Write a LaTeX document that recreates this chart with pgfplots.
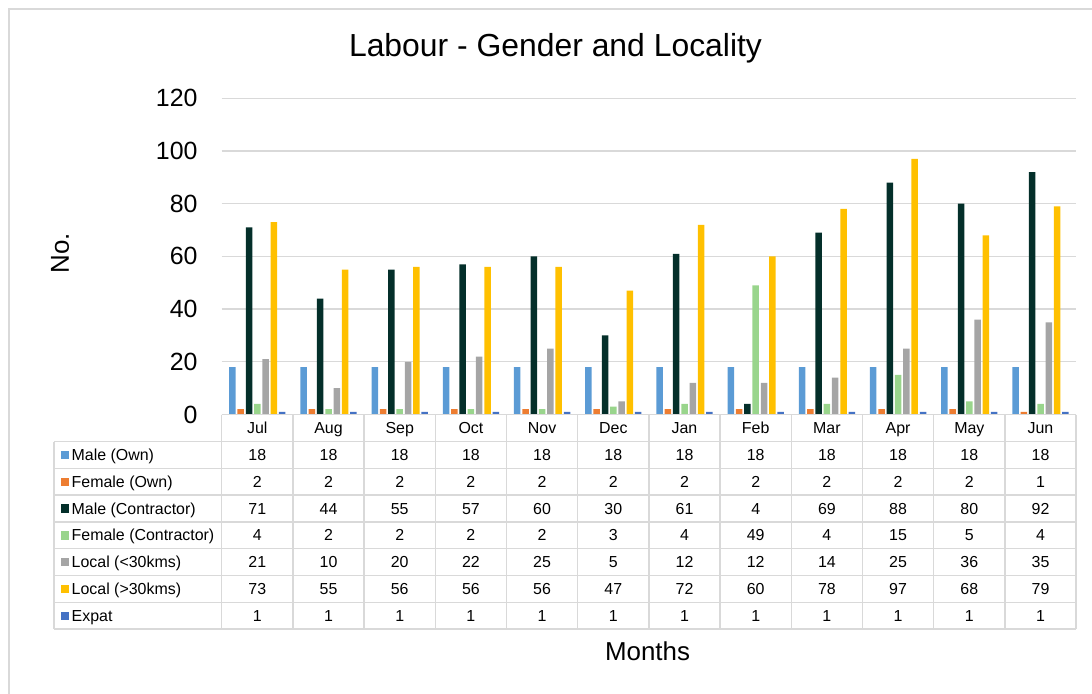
\documentclass[border=0pt]{standalone}
\usepackage{fontspec}
\setmainfont{Liberation Sans}
\usepackage{pgfplots}
\usepackage{pgfplotstable}
\pgfplotsset{compat=1.18}

\definecolor{cMO}{RGB}{91,155,213}
\definecolor{cFO}{RGB}{237,125,49}
\definecolor{cMC}{RGB}{4,47,42}
\definecolor{cFC}{RGB}{153,213,140}
\definecolor{cLT}{RGB}{165,165,165}
\definecolor{cGT}{RGB}{255,192,0}
\definecolor{cEX}{RGB}{68,114,196}
\definecolor{cGrid}{RGB}{217,217,217}

% monthly headcount, one column per series
\pgfplotstableread{
month mo fo mc fc lt gt ex
Jul 18 2 71 4 21 73 1
Aug 18 2 44 2 10 55 1
Sep 18 2 55 2 20 56 1
Oct 18 2 57 2 22 56 1
Nov 18 2 60 2 25 56 1
Dec 18 2 30 3 5 47 1
Jan 18 2 61 4 12 72 1
Feb 18 2 4 49 12 60 1
Mar 18 2 69 4 14 78 1
Apr 18 2 88 15 25 97 1
May 18 2 80 5 36 68 1
Jun 18 1 92 4 35 79 1
}\labour

\begin{document}
\begin{tikzpicture}
\path[use as bounding box] (0,0) rectangle (1092bp,-694bp);
\draw[cGrid, line width=1.5bp] (9bp,-694bp) -- (9bp,-9bp) -- (1092bp,-9bp);

\begin{axis}[at={(221.7bp,-414.5bp)}, anchor=south west,
  scale only axis, width=854.4bp, height=316.2bp,
  xmin=-0.5, xmax=11.5, ymin=0, ymax=120,
  ytick={0,20,...,120}, xtick=\empty,
  axis line style={draw=none}, major tick length=0pt,
  ymajorgrids, grid style={cGrid, line width=1.3bp},
  yticklabel style={font=\fontsize{25}{25}\selectfont, anchor=east, inner sep=0pt, xshift=-24bp},
  /pgf/number format/assume math mode=true,
  ybar=1.8bp, bar width=6.5bp, clip=false]
 \addplot[fill=cMO, draw=none] table[x expr=\coordindex, y=mo]{\labour};
 \addplot[fill=cFO, draw=none] table[x expr=\coordindex, y=fo]{\labour};
 \addplot[fill=cMC, draw=none] table[x expr=\coordindex, y=mc]{\labour};
 \addplot[fill=cFC, draw=none] table[x expr=\coordindex, y=fc]{\labour};
 \addplot[fill=cLT, draw=none] table[x expr=\coordindex, y=lt]{\labour};
 \addplot[fill=cGT, draw=none] table[x expr=\coordindex, y=gt]{\labour};
 \addplot[fill=cEX, draw=none] table[x expr=\coordindex, y=ex]{\labour};
\end{axis}

% data table under the plot
\def\xz{221.7}\def\cw{71.2}\def\rh{26.8}\def\ty{441.5}
\begin{scope}[cGrid, line width=1.5bp]
 \draw (\xz bp,-414.5bp) -- (\xz bp+12*\cw bp,-414.5bp);
 \foreach \k in {0,...,7}
  \draw (54bp,-\ty bp-\k*\rh bp) -- (\xz bp+12*\cw bp,-\ty bp-\k*\rh bp);
 \draw (54bp,-\ty bp) -- (54bp,-\ty bp-7*\rh bp);
 \foreach \j in {0,...,12}
  \draw (\xz bp+\j*\cw bp,-414.5bp) -- (\xz bp+\j*\cw bp,-\ty bp-7*\rh bp);
\end{scope}

\tikzset{cell/.style={inner sep=0pt, text height=11.4pt, text depth=0pt, font=\fontsize{16}{16}\selectfont}}
\foreach \r in {0,...,11}{
  \pgfplotstablegetelem{\r}{month}\of\labour
  \node[cell] at (\xz bp+\r*\cw bp+0.5*\cw bp,-428bp) {\pgfplotsretval};
}
\foreach \c/\lab/\col [count=\i from 0] in {mo/Male (Own)/cMO, fo/Female (Own)/cFO,
   mc/Male (Contractor)/cMC, fc/Female (Contractor)/cFC, lt/Local (<30kms)/cLT,
   gt/Local (>30kms)/cGT, ex/Expat/cEX}{
  \fill[\col] (60.5bp,-\ty bp-\i*\rh bp-0.5*\rh bp+4.2bp) rectangle ++(8.5bp,-8.4bp);
  \node[cell, anchor=west] at (71.5bp,-\ty bp-\i*\rh bp-0.5*\rh bp) {\lab};
  \foreach \r in {0,...,11}{
    \pgfplotstablegetelem{\r}{\c}\of\labour
    \node[cell] at (\xz bp+\r*\cw bp+0.5*\cw bp,-\ty bp-\i*\rh bp-0.5*\rh bp) {\pgfplotsretval};
  }
}

\node[font=\fontsize{32}{32}\selectfont, inner sep=0pt] at (555.5bp,-48bp) {Labour - Gender and Locality};
\node[font=\fontsize{26}{26}\selectfont, inner sep=0pt] at (647.5bp,-651bp) {Months};
\node[font=\fontsize{26}{26}\selectfont, inner sep=0pt, rotate=90] at (60bp,-253bp) {No.};
\end{tikzpicture}
\end{document}
